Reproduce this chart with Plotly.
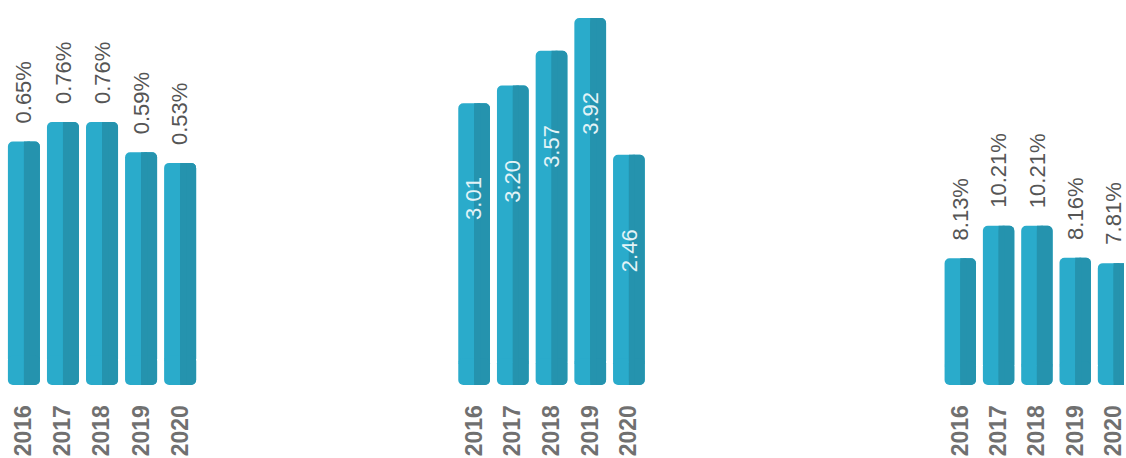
import plotly.graph_objects as go

years = ["2016", "2017", "2018", "2019", "2020"]
panel1_values = [0.65, 0.76, 0.76, 0.59, 0.53]
panel1_labels = ["0.65%", "0.76%", "0.76%", "0.59%", "0.53%"]
panel2_values = [3.01, 3.20, 3.57, 3.92, 2.46]
panel2_labels = ["3.01", "3.20", "3.57", "3.92", "2.46"]
panel3_values = [8.13, 10.21, 10.21, 8.16, 7.81]
panel3_labels = ["8.13%", "10.21%", "10.21%", "8.16%", "7.81%"]

W, H = 1126, 458
LIGHT = "#2aabcb"
DARK = "#2593ae"
FONT = "Arial, Liberation Sans, sans-serif"

# panel settings: values, labels, axis base, split level, px per unit, x-domain px, x-range, label inside?
panels = [
    (panel1_values, panel1_labels, -0.72, -0.6, 177.7, (4.4, 200.0), [-0.5, 4.5], False),
    (panel2_values, panel2_labels, 0.0, 0.2, 93.6, (455.6, 649.4), [-0.5, 4.5], True),
    (panel3_values, panel3_labels, 0.0, 1.0, 15.6, (942.8, 1126.0), [-0.5, 4.5 - 8.7 / 38.4], False),
]

BOTTOM_PX = 385
R = 5
BW = 0.82
OVERLAP_PX = 8
fig = go.Figure()
annotations = []
for i, (vals, labs, base, mid, scale, (x0, x1), xr, inside) in enumerate(panels):
    n = "" if i == 0 else str(i + 1)
    xa, ya = "x" + n, "y" + n
    idx = list(range(len(years)))
    mid2 = mid + OVERLAP_PX / scale
    up = [v - mid for v in vals]
    down = [base - mid2 for _ in vals]
    full = [v - base for v in vals]
    common = dict(x=idx, xaxis=xa, yaxis=ya, hoverinfo="skip", showlegend=False)
    for color, wdt, off in ((LIGHT, BW, -BW / 2), (DARK, BW / 2, 0)):
        # upper part (rounded top) and lower part (rounded bottom), overlapping
        fig.add_trace(go.Bar(y=up, base=mid, width=wdt, offset=off,
                             marker=dict(color=color, cornerradius=R, line=dict(width=0)), **common))
        fig.add_trace(go.Bar(y=down, base=mid2, width=wdt, offset=off,
                             marker=dict(color=color, cornerradius=R, line=dict(width=0)), **common))
    # square strip along the split so the dark half has straight inner corners
    strip = (R + 1) / ((x1 - x0) / (xr[1] - xr[0]))
    fig.add_trace(go.Bar(y=full, base=base, width=strip, offset=0,
                         marker=dict(color=DARK, line=dict(width=0)), **common))
    top = base + BOTTOM_PX / scale
    fig.layout["xaxis" + n] = dict(
        domain=[x0 / W, min(x1 / W, 1)], range=xr, anchor=ya,
        tickmode="array", tickvals=idx, ticktext=years,
        showgrid=False, zeroline=False, showline=False,
        ticks="outside", ticklen=10, tickcolor="rgba(0,0,0,0)", tickangle=-90,
        tickfont=dict(family=FONT, size=23, color="#707070", weight="bold"),
        ticklabeloverflow="allow", fixedrange=True,
    )
    fig.layout["yaxis" + n] = dict(
        domain=[(H - BOTTOM_PX) / H, 1], range=[base, top], anchor=xa,
        showgrid=False, zeroline=False, showline=False, showticklabels=False,
        fixedrange=True,
    )
    for k, v, lab in zip(idx, vals, labs):
        if inside:
            annotations.append(dict(
                x=k, y=v, xref=xa, yref=ya, text=lab, showarrow=False,
                textangle=-90, yanchor="top", yshift=-72,
                font=dict(family=FONT, size=22, color="#e3f3f7"),
            ))
        else:
            annotations.append(dict(
                x=k, y=v, xref=xa, yref=ya, text=lab, showarrow=False,
                textangle=-90, yanchor="bottom", yshift=16,
                font=dict(family=FONT, size=22, color="#555555"),
            ))

fig.update_layout(
    width=W, height=H, margin=dict(l=0, r=0, t=0, b=0),
    paper_bgcolor="white", plot_bgcolor="white",
    barmode="overlay", annotations=annotations,
)

fig.write_html("out.html", config={"displayModeBar": False},
               post_script="document.body.style.margin='0';")
